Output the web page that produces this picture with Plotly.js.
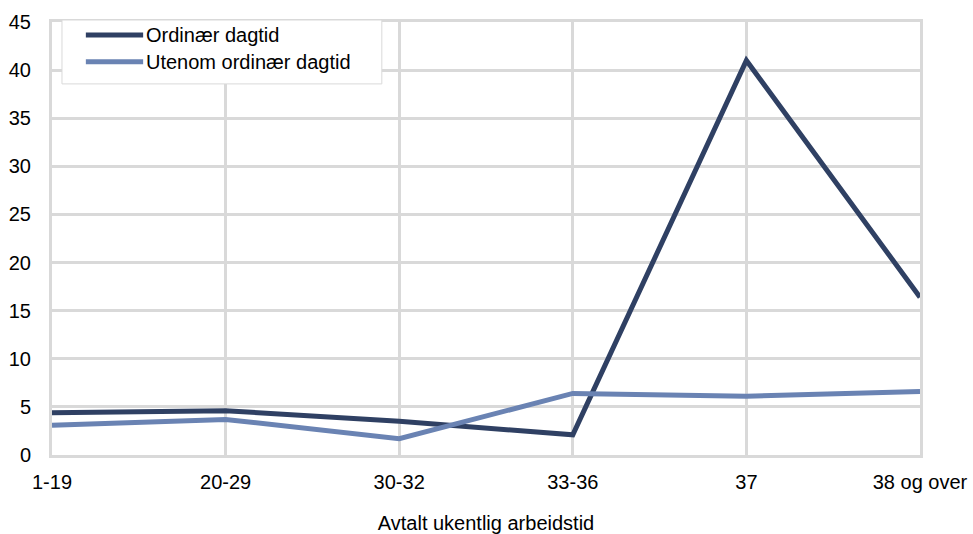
<!DOCTYPE html>
<html>
<head>
<meta charset="utf-8">
<script src="https://cdn.plot.ly/plotly-3.0.1.min.js"></script>
<style>html,body{margin:0;padding:0;background:#fff;}#chart{width:973px;height:534px;}</style>
</head>
<body>
<div id="chart"></div>
<script>
var categories = ["1-19", "20-29", "30-32", "33-36", "37", "38 og over"];
var ordinaer = [4.4, 4.6, 3.5, 2.1, 41.0, 16.4];
var utenom = [3.1, 3.7, 1.7, 6.4, 6.1, 6.6];
var seriesNames = ["Ordinær dagtid", "Utenom ordinær dagtid"];
var colors = ["#2f4063", "#6a83b3"];
var yTicks = [0, 5, 10, 15, 20, 25, 30, 35, 40, 45];

var fontFam = "Liberation Sans, Arial, sans-serif";
var grid = "#d9d9d9";
var fs = 20;

var traces = [
  {x: categories, y: ordinaer, type: "scatter", mode: "lines", name: seriesNames[0],
   line: {color: colors[0], width: 5}, showlegend: false},
  {x: categories, y: utenom, type: "scatter", mode: "lines", name: seriesNames[1],
   line: {color: colors[1], width: 5}, showlegend: false}
];

// custom legend (Excel-style)
var shapes = [
  {type: "rect", xref: "paper", yref: "paper", x0: 0.0115, x1: 0.380, y0: 0.857, y1: 1.0046,
   fillcolor: "#ffffff", line: {color: grid, width: 1}, layer: "above"},
  {type: "line", xref: "paper", yref: "paper", x0: 0.039, x1: 0.105, y0: 0.970, y1: 0.970,
   line: {color: colors[0], width: 5}, layer: "above"},
  {type: "line", xref: "paper", yref: "paper", x0: 0.039, x1: 0.105, y0: 0.908, y1: 0.908,
   line: {color: colors[1], width: 5}, layer: "above"}
];
var annotations = [
  {xref: "paper", yref: "paper", x: 0.1064, y: 0.970, xanchor: "left", yanchor: "middle",
   text: seriesNames[0], showarrow: false, font: {family: fontFam, size: fs, color: "#000"}},
  {xref: "paper", yref: "paper", x: 0.1064, y: 0.908, xanchor: "left", yanchor: "middle",
   text: seriesNames[1], showarrow: false, font: {family: fontFam, size: fs, color: "#000"}}
];

var layout = {
  width: 973, height: 534,
  margin: {l: 52, r: 53, t: 22, b: 79},
  paper_bgcolor: "#fff", plot_bgcolor: "#fff",
  font: {family: fontFam, size: fs, color: "#000"},
  showlegend: false,
  xaxis: {
    type: "category", range: [0, 5], showgrid: true, gridcolor: grid, gridwidth: 3,
    showline: true, mirror: true, linecolor: grid, linewidth: 3, zeroline: false,
    ticks: "", ticklabelstandoff: 7,
    tickfont: {family: fontFam, size: fs, color: "#000"},
    title: {text: "Avtalt ukentlig arbeidstid", font: {family: fontFam, size: fs, color: "#000"}, standoff: 24},
    automargin: false
  },
  yaxis: {
    range: [0, 45], tickvals: yTicks, showgrid: true, gridcolor: grid, gridwidth: 3,
    showline: true, mirror: true, linecolor: grid, linewidth: 3,
    zeroline: true, zerolinecolor: grid, zerolinewidth: 3,
    ticks: "", ticklabelstandoff: 14,
    tickfont: {family: fontFam, size: fs, color: "#000"},
    automargin: false
  },
  shapes: shapes,
  annotations: annotations
};

Plotly.newPlot("chart", traces, layout, {displayModeBar: false, staticPlot: true});
</script>
</body>
</html>
